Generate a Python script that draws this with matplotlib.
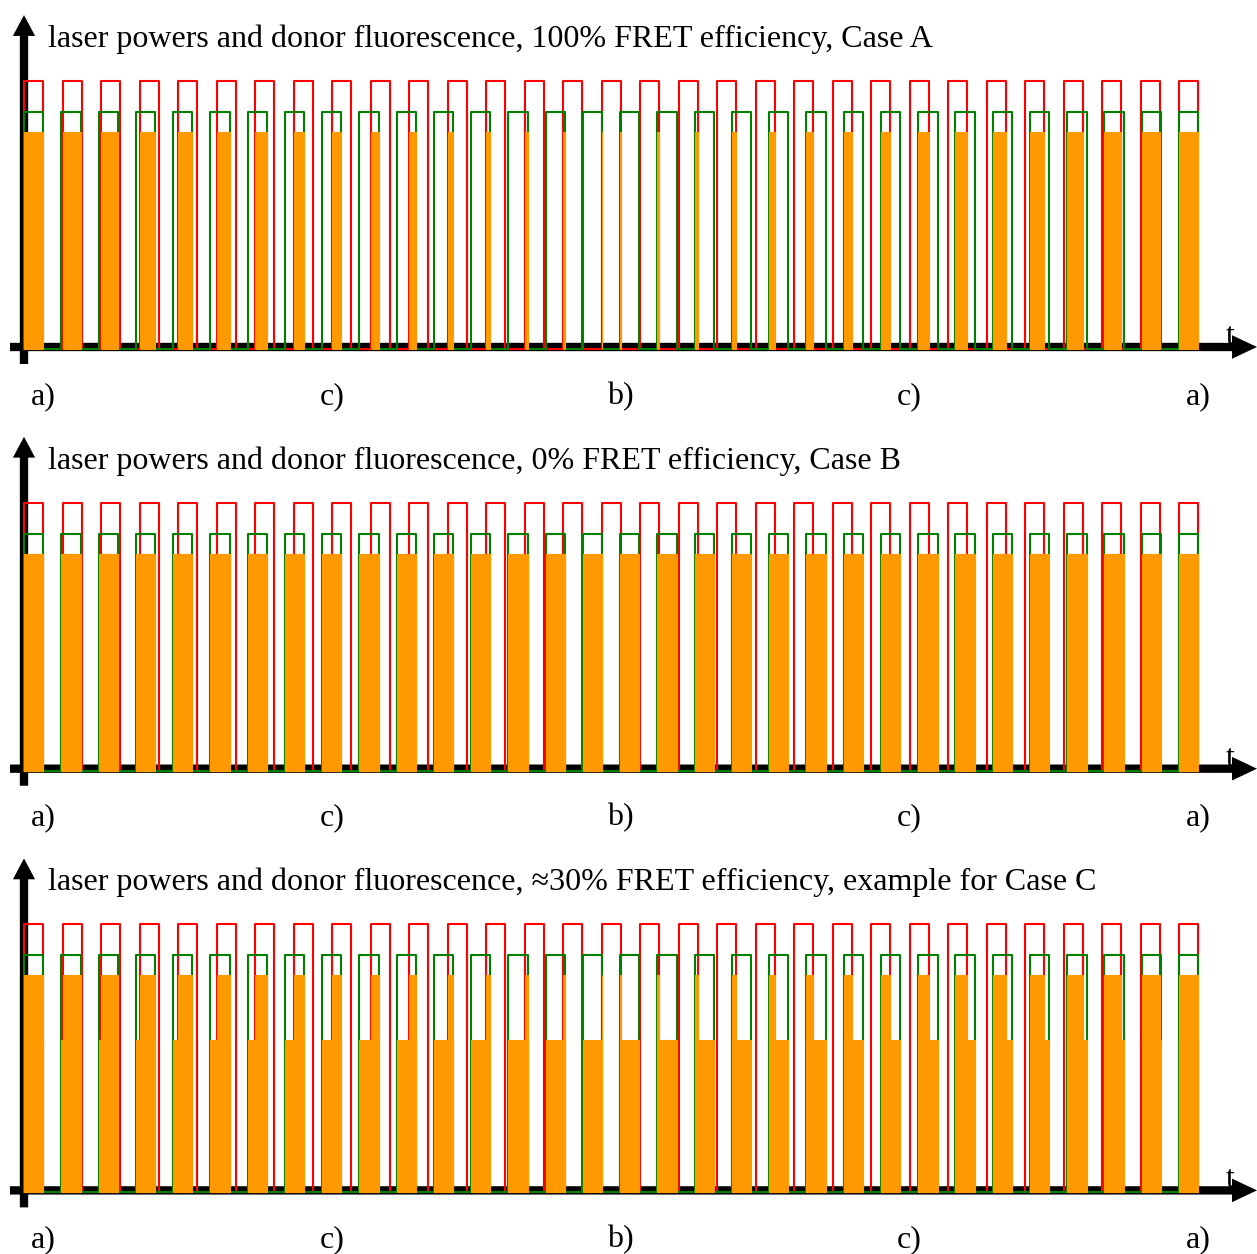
import matplotlib.pyplot as plt

# pulse trains (time in units of the red laser period)
red_starts = [0, 1, 2, 3, 4, 5, 6, 7, 8, 9, 10, 11, 12, 13, 14, 15,
              16, 17, 18, 19, 20, 21, 22, 23, 24, 25, 26, 27, 28, 29, 30]
green_starts = [0.00, 0.97, 1.94, 2.90, 3.87, 4.84, 5.81, 6.77, 7.74, 8.71,
                9.68, 10.65, 11.61, 12.58, 13.55, 14.52, 15.48, 16.45, 17.42,
                18.39, 19.35, 20.32, 21.29, 22.26, 23.23, 24.19, 25.16, 26.13,
                27.10, 28.06, 29.03, 30.00]
pulse_width = 0.5
red_level = 1.0
green_level = 0.885
donor_level = 0.81

fret_eff = [1.0, 0.0, 0.3]
titles = ["laser powers and donor fluorescence, 100% FRET efficiency, Case A",
          "laser powers and donor fluorescence, 0% FRET efficiency, Case B",
          "laser powers and donor fluorescence, \u224830% FRET efficiency, example for Case C"]
phase_labels = ["a)", "c)", "b)", "c)", "a)"]
phase_pos = [0.5, 8.0, 15.5, 23.0, 30.5]

RED = "#ff0000"
GREEN = "#008000"
ORANGE = "#ff9900"
font = ["Liberation Serif", "DejaVu Serif"]
fs = 23


def pulse_trace(starts, w, h):
    xs, ys = [], []
    for s in starts:
        xs += [s, s, s + w, s + w]
        ys += [0, h, h, 0]
    return xs, ys


fig = plt.figure(figsize=(12.57, 12.54), dpi=100)
W, H = 1257, 1254
panel_h = 421.7
px_t = 38.5      # pixels per time unit
x0_px = 24       # pixel of t = 0
base_px = 349    # baseline inside a panel
amp_px = 268     # pixels for red_level

for i in range(3):
    ax = fig.add_axes([0, 1 - (i + 1) * panel_h / H, 1, panel_h / H])
    ax.set_xlim(-x0_px / px_t, (W - x0_px) / px_t)
    ax.set_ylim((base_px - panel_h) / amp_px, base_px / amp_px)
    ax.axis("off")

    # axes arrows
    ax.annotate("", xy=(0, 1.246), xytext=(0, -0.056), annotation_clip=False,
                arrowprops=dict(facecolor="black", edgecolor="none", width=6,
                                headwidth=16, headlength=15, shrink=0), zorder=1)
    ax.annotate("", xy=((W - x0_px) / px_t, 0.0075), xytext=(-0.364, 0.0075),
                annotation_clip=False,
                arrowprops=dict(facecolor="black", edgecolor="none", width=6,
                                headwidth=17, headlength=18, shrink=0), zorder=1)

    rx, ry = pulse_trace(red_starts, pulse_width, red_level)
    gx, gy = pulse_trace(green_starts, pulse_width, green_level)
    ax.plot(rx, ry, color=RED, lw=1.5, zorder=2)
    ax.plot(gx, gy, color=GREEN, lw=1.5, zorder=2)

    # donor fluorescence: quenched by FRET unless the acceptor is saturated by red
    low = donor_level * (1 - fret_eff[i])
    for g in green_starts:
        if low > 0:
            ax.bar(g, low, width=pulse_width, align="edge", color=ORANGE,
                   edgecolor=ORANGE, lw=0.8, zorder=3)
        for r in red_starts:
            lo = max(g, r)
            hi = min(g + pulse_width, r + pulse_width)
            if hi > lo:
                ax.bar(lo, donor_level, width=hi - lo, align="edge", color=ORANGE,
                       edgecolor=ORANGE, lw=0.8, zorder=3)

    ax.text((48 - x0_px) / px_t, 1.127, titles[i], fontsize=fs,
            family=font, va="baseline", ha="left")
    ax.text(31.32, 0.019, "t", fontsize=fs, family=font, va="baseline",
            ha="center", zorder=4)
    for lab, p in zip(phase_labels, phase_pos):
        ax.text(p, -0.205, lab, fontsize=fs, family=font, va="baseline",
                ha="center")

fig.savefig("out.png", dpi=100)
